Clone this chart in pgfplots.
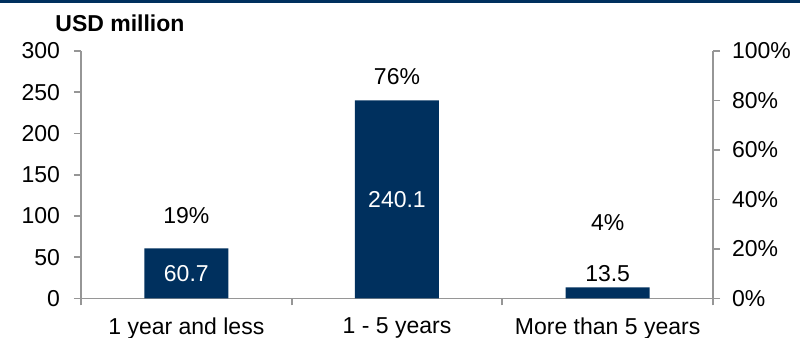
\documentclass[border=0pt]{standalone}
\usepackage{pgfplots}
\pgfplotsset{compat=1.18}
\usepackage{fontspec}
\setmainfont{Liberation Sans}
\definecolor{navy}{RGB}{0,48,94}
\definecolor{axgray}{RGB}{150,150,150}
\newcommand\fs{\fontsize{11.5}{13}\selectfont}
\begin{document}
\begin{tikzpicture}[font=\fs]
\path[use as bounding box] (0,0) rectangle (400pt,169pt);
\fill[navy] (0,167.5pt) rectangle (400pt,169pt);
\node[anchor=west,font=\fs\bfseries,inner sep=0pt] at (27.5pt,157.5pt) {USD million};
\pgfplotsset{base/.style={at={(40.5pt,19.75pt)}, anchor=south west, scale only axis, width=316pt, height=123.75pt,
  xmin=-0.5, xmax=2.5, tick align=outside, tick style={axgray, line width=0.9pt},
  axis line style={axgray, line width=0.9pt}, major tick length=3.5pt, minor tick length=3.5pt,
  /pgf/number format/assume math mode=true,
  ticklabel style={font=\fs, text=black}}}
\begin{axis}[base, ymin=0, ymax=300, ytick={0,50,...,300},
  axis x line*=bottom, axis y line*=left,
  xtick={0,1,2}, xticklabels={1 year and less, 1 - 5 years, More than 5 years},
  major x tick style={draw=none}, minor xtick={-0.5,0.5,1.5,2.5},
  yticklabel style={xshift=-3.5pt}, xticklabel style={yshift=-2.5pt}]
\addplot[ybar, bar width=42pt, fill=navy, draw=none] coordinates {(0,60.7) (1,240.1) (2,13.5)};
\addplot[draw=none, mark=none, nodes near coords, point meta=explicit symbolic,
  every node near coord/.style={text=white, anchor=center, font=\fs}]
  coordinates {(0,30.35)[60.7] (1,120.05)[240.1]};
\addplot[draw=none, mark=none, nodes near coords, point meta=explicit symbolic,
  every node near coord/.style={text=black, anchor=south, font=\fs, inner sep=2.5pt}]
  coordinates {(2,13.5)[13.5]};
\addplot[draw=none, mark=none, nodes near coords, point meta=explicit symbolic,
  every node near coord/.style={text=black, anchor=center, font=\fs}]
  coordinates {(0,100)[19\%] (1,268.8)[76\%] (2,91.9)[4\%]};
\end{axis}
\begin{axis}[base, ymin=0, ymax=100, ytick={0,20,...,100},
  axis y line*=right, axis x line=none,
  yticklabel={\pgfmathprintnumber{\tick}\%}, yticklabel style={xshift=2.5pt}]
\addplot[draw=none] coordinates {(0,0)};
\end{axis}
\end{tikzpicture}
\end{document}
